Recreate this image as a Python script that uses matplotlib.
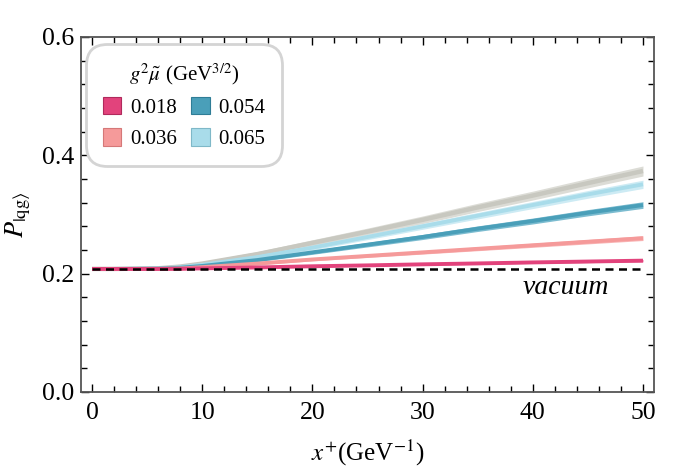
import matplotlib
matplotlib.use("Agg")
import matplotlib.pyplot as plt
from matplotlib.patches import Patch
import numpy as np

plt.rcParams['font.family'] = ['Liberation Serif', 'DejaVu Serif']
plt.rcParams['mathtext.fontset'] = 'stix'

# ---- data ----
x = [0, 2, 4, 6, 8, 10, 15, 20, 25, 30, 35, 40, 45, 50]

gray_y   = [0.208, 0.208, 0.2085, 0.209, 0.212, 0.217, 0.233, 0.252, 0.271, 0.291, 0.312, 0.332, 0.353, 0.3735]
gray_err = [0.002, 0.002, 0.002, 0.0022, 0.0027, 0.0033, 0.0043, 0.0053, 0.006, 0.0065, 0.007, 0.0075, 0.008, 0.0085]

labels = ['0.018', '0.036', '0.054', '0.065']
y_018 = [0.208, 0.208, 0.208, 0.208, 0.2082, 0.209, 0.2105, 0.2125, 0.214, 0.2158, 0.2173, 0.219, 0.2205, 0.222]
e_018 = [0.001, 0.001, 0.001, 0.001, 0.001, 0.001, 0.0012, 0.0013, 0.0014, 0.0015, 0.0016, 0.0017, 0.0018, 0.002]
y_036 = [0.208, 0.208, 0.208, 0.2082, 0.2087, 0.211, 0.217, 0.224, 0.230, 0.236, 0.242, 0.248, 0.254, 0.260]
e_036 = [0.001, 0.001, 0.001, 0.001, 0.0012, 0.0015, 0.002, 0.0023, 0.0026, 0.0029, 0.0032, 0.0035, 0.0037, 0.004]
y_054 = [0.208, 0.208, 0.2082, 0.2085, 0.210, 0.213, 0.223, 0.236, 0.249, 0.262, 0.276, 0.289, 0.303, 0.316]
e_054 = [0.001, 0.001, 0.001, 0.0012, 0.0015, 0.0019, 0.0027, 0.0033, 0.0038, 0.0043, 0.0047, 0.005, 0.0053, 0.0056]
y_065 = [0.208, 0.208, 0.2083, 0.2088, 0.211, 0.215, 0.228, 0.244, 0.262, 0.280, 0.298, 0.316, 0.334, 0.351]
e_065 = [0.0015, 0.0015, 0.0015, 0.0016, 0.0021, 0.0027, 0.0033, 0.0039, 0.0045, 0.005, 0.0055, 0.006, 0.0065, 0.007]

vacuum = 0.208

band_colors = ['#ee6f9a', '#f9b6b6', '#7cbcd0', '#cdebf4']
line_colors = ['#e2437c', '#f59a9a', '#4a9fb9', '#a9dcea']
edge_colors = ['#b02a5c', '#d57878', '#2f7d96', '#7fb8c8']
gray_band = '#dcdcd6'
gray_line = '#c8c8c0'

fig = plt.figure(figsize=(6.94, 4.71), dpi=100)
ax = fig.add_axes([81/694, 1-392/471, (654-81)/694, (392-37)/471])

xa = np.array(x)
ax.fill_between(xa, np.array(gray_y)-np.array(gray_err), np.array(gray_y)+np.array(gray_err),
                color=gray_band, lw=0, zorder=2)
ax.plot(xa, gray_y, color=gray_line, lw=3.2, zorder=2.1, solid_capstyle='butt')

series = [(y_065, e_065, 3), (y_054, e_054, 2), (y_036, e_036, 1), (y_018, e_018, 0)]
for ys, es, i in series:
    ys = np.array(ys); es = np.array(es)
    ax.fill_between(xa, ys-es, ys+es, color=band_colors[i], lw=0, zorder=3+0.1*(3-i))
    ax.plot(xa, ys, color=line_colors[i], lw=2.8, zorder=3.05+0.1*(3-i), solid_capstyle='butt')

ax.plot([0, 50], [vacuum, vacuum], color='black', lw=1.8, dashes=(3.2, 2.2), zorder=5)
ax.text(43, 0.176, 'vacuum', fontsize=20, style='italic', ha='center', va='center')

ax.set_xlim(-1, 51)
ax.set_ylim(0, 0.6)
ax.set_xticks([0, 10, 20, 30, 40, 50])
ax.set_xticks(np.arange(0, 51, 2), minor=True)
ax.set_yticks([0.0, 0.2, 0.4, 0.6])
ax.set_yticklabels(['0.0', '0.2', '0.4', '0.6'])
ax.set_yticks(np.arange(0, 0.61, 0.04), minor=True)
ax.tick_params(which='both', direction='in', top=True, right=True, labelsize=18.5, color='black')
ax.tick_params(which='major', length=6, width=1)
ax.tick_params(which='minor', length=4, width=1)
ax.tick_params(axis='x', pad=7)
ax.tick_params(axis='y', pad=5)
for s in ax.spines.values():
    s.set_color('#555555')
    s.set_linewidth(1.3)

ax.set_xlabel(r'$x^{+}$(GeV$^{-1}$)', fontsize=18, labelpad=10)
ax.set_ylabel(r'$P_{|\mathrm{qg}\rangle}$', fontsize=19, labelpad=6)

handles = [Patch(facecolor=line_colors[i], edgecolor=edge_colors[i], lw=0.8) for i in range(4)]
leg = ax.legend(handles, labels, ncol=2, loc='upper left', bbox_to_anchor=(0.016, 0.968),
                borderaxespad=0, fontsize=15, title=r'$g^2\tilde{\mu}$ (GeV$^{3/2}$)',
                title_fontsize=15, handlelength=0.9, handleheight=0.9, handletextpad=0.4,
                columnspacing=0.7, labelspacing=0.5, borderpad=0.6, fancybox=True, framealpha=1)
leg.get_frame().set_edgecolor('#d4d4d4')
leg.get_frame().set_linewidth(2)
leg.get_frame().set_boxstyle('round,pad=0.2,rounding_size=1.0')

fig.savefig('out.png', dpi=100)
